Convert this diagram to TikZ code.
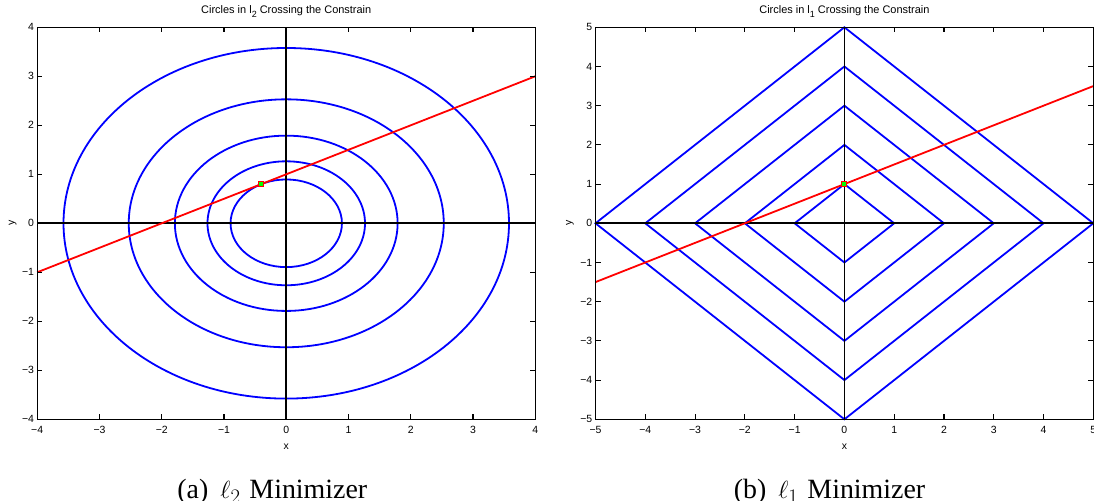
\documentclass[tikz,border=0pt]{standalone}
\usepackage{fontspec}
\setmainfont{Liberation Serif}
\setsansfont{Liberation Sans}

\begin{document}
\begin{tikzpicture}[
  x=1bp, y=1bp,
  frame/.style={line width=1.1bp},
  zeroaxis/.style={line width=1.8bp},
  level/.style={draw=blue, line width=1.8bp},
  constraint/.style={draw=red, line width=1.8bp},
  optimum/.style={draw=red, fill=green, line width=1bp,
                  inner sep=0pt, minimum size=5bp},
  ticklabel/.style={font=\sffamily\fontsize{10.5}{10.5}\selectfont, inner sep=0pt},
  xtick/.style={ticklabel, anchor=base, yshift=-14.5bp},
  ytick/.style={ticklabel, anchor=east, xshift=-3bp},
  axislabel/.style={font=\sffamily\fontsize{10.5}{10.5}\selectfont, inner sep=0pt},
  plottitle/.style={font=\sffamily\fontsize{11}{11}\selectfont,
                    inner sep=0pt, anchor=base},
  subcap/.style={font=\fontsize{28}{28}\selectfont, inner sep=0pt, anchor=base},
]
\useasboundingbox (0,0) rectangle (1094,501);

% ── (a) l2 balls ──────────────────────────────────────────────────────────────
\begin{scope}[shift={(286.25,277.7)}, x=62.26bp, y=49bp]
  \foreach \k in {0,...,4}
    \draw[level] (0,0) circle ({0.8944*1.41421^\k});
  \draw[zeroaxis] (-4,0) -- (4,0);
  \draw[zeroaxis] (0,-4) -- (0,4);
  \draw[constraint] (-4,-1) -- (4,3);
  \node[optimum] (optl2) at (-0.4,0.8) {};
  \draw[frame] (-4,-4) rectangle (4,4);
  \foreach \v in {-3,...,3} {
    \draw[frame] (\v,-4) -- ++(0,5bp);
    \draw[frame] (\v,4) -- ++(0,-5bp);
    \draw[frame] (-4,\v) -- ++(5bp,0);
    \draw[frame] (4,\v) -- ++(-5bp,0);
  }
  \foreach \v/\t in {-4/−4,-3/−3,-2/−2,-1/−1,0/0,1/1,2/2,3/3,4/4} {
    \node[xtick] (lx\v) at (\v,-4) {\t};
    \node[ytick] (ly\v) at (-4,\v) {\t};
  }
  \node[axislabel] (lxlab) at (0,-4) [yshift=-27.5bp] {x};
  \node[plottitle] (ltitle) at (0,4) [yshift=13.7bp]
    {Circles in l\raisebox{-3.5bp}{\fontsize{9}{9}\selectfont 2} Crossing the Constrain};
\end{scope}
\node[axislabel, rotate=90] (lylab) at (12.7,277.7) {y};

% ── (b) l1 balls ──────────────────────────────────────────────────────────────
\begin{scope}[shift={(844.4,277.7)}, x=49.78bp, y=39.2bp]
  \foreach \r in {1,...,5}
    \draw[level] (\r,0) -- (0,\r) -- (-\r,0) -- (0,-\r) -- cycle;
  \draw[zeroaxis] (-5,0) -- (5,0);
  \draw[zeroaxis] (0,-5) -- (0,5);
  \draw[constraint] (-5,-1.5) -- (5,3.5);
  \node[optimum] (optl1) at (0,1) {};
  \draw[frame] (-5,-5) rectangle (5,5);
  \foreach \v in {-4,...,4} {
    \draw[frame] (\v,-5) -- ++(0,5bp);
    \draw[frame] (\v,5) -- ++(0,-5bp);
    \draw[frame] (-5,\v) -- ++(5bp,0);
    \draw[frame] (5,\v) -- ++(-5bp,0);
  }
  \foreach \v/\t in {-5/−5,-4/−4,-3/−3,-2/−2,-1/−1,0/0,1/1,2/2,3/3,4/4,5/5} {
    \node[xtick] (rx\v) at (\v,-5) {\t};
    \node[ytick] (ry\v) at (-5,\v) {\t};
  }
  \node[axislabel] (rxlab) at (0,-5) [yshift=-27.5bp] {x};
  \node[plottitle] (rtitle) at (0,5) [yshift=13.7bp]
    {Circles in l\raisebox{-3.5bp}{\fontsize{9}{9}\selectfont 1} Crossing the Constrain};
\end{scope}
\node[axislabel, rotate=90] (rylab) at (570,277.7) {y};

% ── sub-captions ──────────────────────────────────────────────────────────────
\node[subcap] (capa) at (272.3,2.4)
  {(a)\hspace{12bp}$\ell_2$\hspace{9bp}Minimizer};
\node[subcap] (capb) at (829.5,2.4)
  {(b)\hspace{12bp}$\ell_1$\hspace{9bp}Minimizer};

\end{tikzpicture}
\end{document}
